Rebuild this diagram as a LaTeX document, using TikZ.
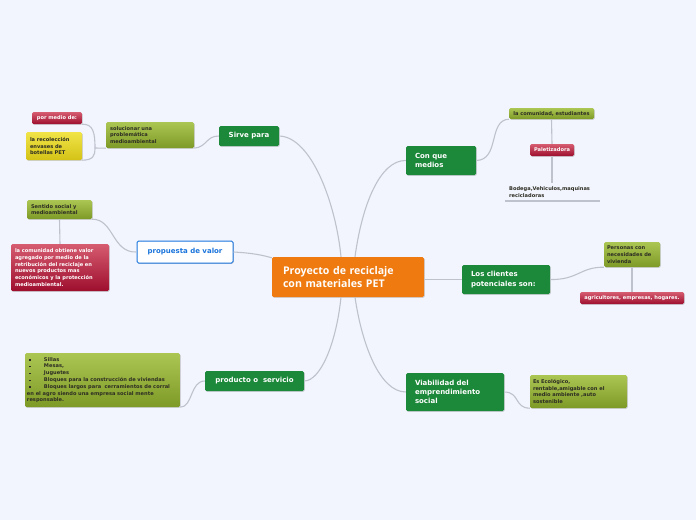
\documentclass[tikz,border=0pt]{standalone}
\usepackage{fontspec}
\setmainfont{DejaVu Sans}
\newfontfamily\centrefont{Open Sans}
\usetikzlibrary{shadows}
\definecolor{bg}{RGB}{242,245,253}
\definecolor{conncol}{RGB}{190,194,204}
\definecolor{mmgreen}{RGB}{28,136,58}
\definecolor{mmorange}{RGB}{238,122,16}
\definecolor{mmblue}{RGB}{26,116,220}
\definecolor{olivetop}{RGB}{172,198,84}
\definecolor{olivebot}{RGB}{126,154,38}
\definecolor{redtop}{RGB}{214,92,112}
\definecolor{redbot}{RGB}{158,14,46}
\definecolor{yeltop}{RGB}{240,228,72}
\definecolor{yelbot}{RGB}{212,194,22}
\definecolor{darktext}{RGB}{45,45,35}
\tikzset{
  x=1pt, y=-1pt,
  conn/.style={draw=conncol, line width=1.1pt},
  smallfont/.style={font=\fontsize{5.1}{6.8}\selectfont\bfseries},
  mmbox/.style={rounded corners=1.5pt, inner ysep=0pt, align=left,
    drop shadow={shadow xshift=0.8pt, shadow yshift=-0.9pt, opacity=0.3}},
  greenbox/.style={mmbox, fill=mmgreen, text=white, inner xsep=9pt,
    font=\fontsize{7}{9.2}\selectfont\bfseries},
  olivebox/.style={mmbox, top color=olivetop, bottom color=olivebot, text=darktext, inner xsep=4pt, smallfont},
  redbox/.style={mmbox, top color=redtop, bottom color=redbot, text=white, inner xsep=4pt, smallfont},
  yelbox/.style={mmbox, top color=yeltop, bottom color=yelbot, text=darktext, inner xsep=4pt, smallfont},
}
\newcommand{\sqb}{\rule[0.4pt]{1.5pt}{1.5pt}\hspace{13.5pt}}
\begin{document}
\begin{tikzpicture}
\fill[bg] (0,0) rectangle (696,520);
\useasboundingbox (0,0) rectangle (696,520);

% free connector points
\coordinate (j1) at (95,148);
\coordinate (bl) at (505,201);
\coordinate (br) at (600,201);
\coordinate (btop) at (552,183);

% central
\node[mmbox, fill=mmorange, text=white, inner xsep=11pt, minimum width=152pt, minimum height=40pt,
  text width=130pt, font=\centrefont\fontsize{10.6}{13}\selectfont\bfseries] (c) at (348,277)
  {Proyecto de reciclaje\\con materiales PET};

% main branches
\node[greenbox, minimum width=60pt, minimum height=20pt, align=center, inner xsep=2pt] (sirve) at (249,136) {Sirve para};
\node[mmbox, fill=white, draw=mmblue, line width=1pt, text=mmblue, minimum width=96pt, minimum height=22pt,
  align=center, inner xsep=2pt, font=\fontsize{7}{9}\selectfont\bfseries] (prop) at (185,252) {propuesta de valor};
\node[greenbox, minimum width=99pt, minimum height=20pt, align=center, inner xsep=2pt] (prod) at (254.5,381) {producto o\ \ servicio};
\node[greenbox, minimum width=70pt, minimum height=29pt, text width=52pt] (medios) at (441,160.5) {Con que\\medios};
\node[greenbox, minimum width=88pt, minimum height=29pt, text width=70pt] (clientes) at (506,279.5) {Los clientes\\potenciales son:};
\node[greenbox, minimum width=98pt, minimum height=38pt, text width=80pt] (viab) at (455,392) {Viabilidad del\\emprendimiento\\social};

% left top
\node[olivebox, minimum width=88pt, minimum height=26pt, text width=80pt] (soluc) at (150,135) {solucionar una\\problemática\\medioambiental};
\node[redbox, minimum width=50pt, minimum height=12pt, align=center, inner xsep=1pt] (pormedio) at (57,118) {por medio de:};
\node[yelbox, minimum width=56pt, minimum height=28pt, text width=48pt] (recol) at (54,146) {la recolección\\envases de\\botellas PET};

% left middle
\node[olivebox, minimum width=65pt, minimum height=19pt, text width=57pt] (sentido) at (59.5,209.5) {Sentido social y\\medioambiental};
\node[redbox, minimum width=98pt, minimum height=47pt, text width=90pt] (comun) at (60,267.5)
  {la comunidad obtiene valor\\agregado por medio de la\\retribución del reciclaje en\\nuevos productos mas\\económicos y la protección\\medioambiental.};

% left bottom
\node[olivebox, minimum width=155pt, minimum height=54pt, text width=151pt, inner xsep=2pt] (lista) at (102.5,380)
  {\hspace*{2pt}\sqb Sillas\\\hspace*{2pt}\sqb Mesas,\\\hspace*{2pt}\sqb Juguetes\\\hspace*{2pt}\sqb Bloques para la construcción de viviendas\\\hspace*{2pt}\sqb Bloques largos para\ \ cerramientos de corral\\en el agro siendo una empresa social mente\\responsable.};

% right top
\node[olivebox, minimum width=85pt, minimum height=11pt, align=center, inner xsep=1pt] (lacom) at (551.5,113.5) {la comunidad, estudiantes};
\node[redbox, minimum width=44pt, minimum height=12pt, align=center, inner xsep=1pt] (palet) at (552,150) {Paletizadora};
\node[anchor=west, inner sep=0pt, align=left, text=darktext, smallfont] (bodega) at (509,192)
  {Bodega,Vehiculos,maquinas\\recicladoras};

% right middle
\node[olivebox, minimum width=56pt, minimum height=25pt, text width=50pt, inner xsep=3pt] (personas) at (632,254.5) {Personas con\\necesidades de\\vivienda};
\node[redbox, minimum width=104pt, minimum height=12pt, align=center, inner xsep=1pt] (agric) at (632,298) {agricultores, empresas, hogares.};

% right bottom
\node[olivebox, minimum width=97pt, minimum height=33pt, text width=91pt, inner xsep=3pt] (eco) at (578.5,391.5)
  {Es Ecológico,\\rentable,amigable con el\\medio ambiente ,auto\\sostenible};

% connectors
\draw[conn] ([xshift=-7pt]c.north) .. controls (336,205) and (312,137) .. (sirve.east);
\draw[conn] ([xshift=7pt]c.north) .. controls (362,205) and (380,160) .. (medios.west);
\draw[conn] (prop.east) .. controls (252,253) and (262,255) .. ([yshift=-1pt]c.north west);
\draw[conn] (c.east |- clientes.west) -- (clientes.west);
\draw[conn] ([xshift=-7pt]c.south) .. controls (336,345) and (320,381) .. (prod.east);
\draw[conn] ([xshift=7pt]c.south) .. controls (362,345) and (380,392) .. (viab.west);

\draw[conn] (sirve.west) .. controls (206,136) and (207,147) .. (soluc.south east);
\draw[conn] (soluc.south west) -- (j1);
\draw[conn] (pormedio.south east) .. controls (93,124) and (95,132) .. (j1);
\draw[conn] (recol.south east) .. controls (93,160) and (95,156) .. (j1);

\draw[conn] (prop.west) .. controls (112,253) and (114,219) .. (sentido.south east);
\draw[conn] (sentido.south) -- (comun.north);

\draw[conn] (prod.west) .. controls (190,381) and (193,407) .. (lista.south east);

\draw[conn] (medios.east) .. controls (500,160) and (488,120) .. (lacom.south west);
\draw[conn] (lacom.south) -- (palet.north);
\draw[conn] (palet.south) -- (btop);
\draw[conn] (bl) -- (br);

\draw[conn] (clientes.east) .. controls (578,280) and (580,267) .. (personas.south west);
\draw[conn] (personas.south) -- (agric.north);

\draw[conn] (viab.east) .. controls (520,392) and (514,408) .. (eco.south west);
\end{tikzpicture}
\end{document}
